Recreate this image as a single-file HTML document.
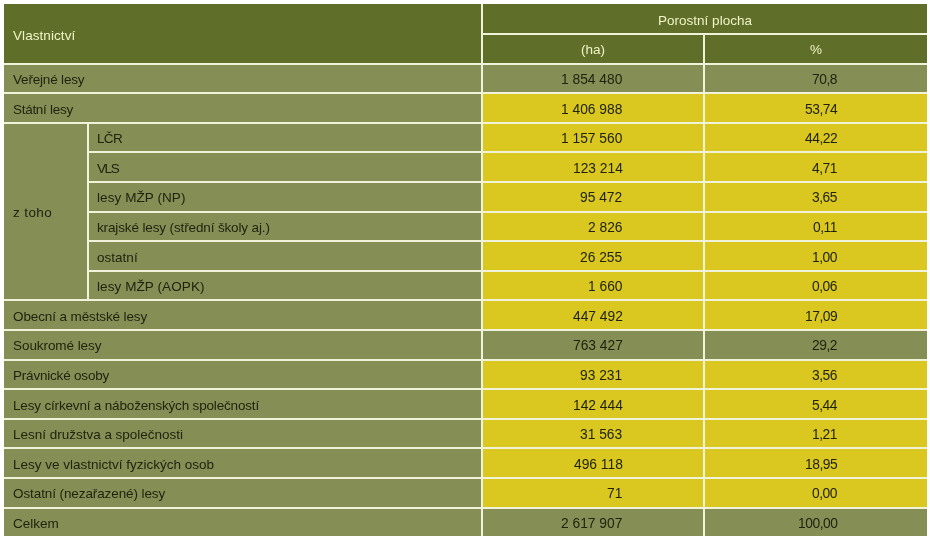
<!DOCTYPE html>
<html><head><meta charset="utf-8"><style>
html,body{margin:0;padding:0;background:#ffffff;width:930px;height:540px;overflow:hidden;}
.wrap{position:relative;width:930px;height:540px;}
.bg{position:absolute;left:4px;top:4px;width:923px;height:532px;background:#f1f2da;}
.r{position:absolute;}
.t{position:absolute;font-family:"Liberation Sans",sans-serif;line-height:20px;white-space:nowrap;will-change:transform;}
</style></head><body><div class="wrap"><div class="bg"></div>
<div class="r" style="left:4px;top:4.00px;width:477px;height:59.00px;background:#5f6f29"></div>
<div class="r" style="left:483px;top:4.00px;width:444px;height:29.00px;background:#5f6f29"></div>
<div class="r" style="left:483px;top:35.00px;width:220px;height:28.00px;background:#5f6f29"></div>
<div class="r" style="left:705px;top:35.00px;width:222px;height:28.00px;background:#5f6f29"></div>
<div class="t" style="top:26.00px;font-size:13.5px;color:#eff3c6;letter-spacing:0.07px;left:12.5px;">Vlastnictví</div>
<div class="t" style="top:11.00px;font-size:13.5px;color:#eff3c6;left:505px;width:400px;text-align:center;">Porostní plocha</div>
<div class="t" style="top:40.00px;font-size:13.5px;color:#eff3c6;left:393px;width:400px;text-align:center;">(ha)</div>
<div class="t" style="top:40.00px;font-size:13.5px;color:#eff3c6;left:615.5px;width:400px;text-align:center;">%</div>
<div class="r" style="left:4px;top:65.00px;width:477px;height:27.00px;background:#858f55"></div>
<div class="t" style="top:70.00px;font-size:13.5px;color:#20240f;letter-spacing:-0.182px;left:12.5px;">Veřejné lesy</div>
<div class="r" style="left:483px;top:65.00px;width:220px;height:27.00px;background:#858f55"></div>
<div class="r" style="left:705px;top:65.00px;width:222px;height:27.00px;background:#858f55"></div>
<div class="t" style="top:70.00px;font-size:13.8px;color:#20240f;right:307.5px;">1 854 480</div>
<div class="t" style="top:70.00px;font-size:13.8px;color:#20240f;letter-spacing:-0.45px;right:92.5px;">70,8</div>
<div class="r" style="left:4px;top:94.00px;width:477px;height:28.00px;background:#858f55"></div>
<div class="t" style="top:100.00px;font-size:13.5px;color:#20240f;letter-spacing:-0.29px;left:12.5px;">Státní lesy</div>
<div class="r" style="left:483px;top:94.00px;width:220px;height:28.00px;background:#dac71f"></div>
<div class="r" style="left:705px;top:94.00px;width:222px;height:28.00px;background:#dac71f"></div>
<div class="t" style="top:100.00px;font-size:13.8px;color:#20240f;right:307.5px;">1 406 988</div>
<div class="t" style="top:100.00px;font-size:13.8px;color:#20240f;letter-spacing:-0.45px;right:92.5px;">53,74</div>
<div class="r" style="left:89px;top:124.00px;width:392px;height:27.00px;background:#858f55"></div>
<div class="t" style="top:129.00px;font-size:13.5px;color:#20240f;letter-spacing:-0.65px;left:96.8px;">LČR</div>
<div class="r" style="left:483px;top:124.00px;width:220px;height:27.00px;background:#dac71f"></div>
<div class="r" style="left:705px;top:124.00px;width:222px;height:27.00px;background:#dac71f"></div>
<div class="t" style="top:129.00px;font-size:13.8px;color:#20240f;right:307.5px;">1 157 560</div>
<div class="t" style="top:129.00px;font-size:13.8px;color:#20240f;letter-spacing:-0.45px;right:92.5px;">44,22</div>
<div class="r" style="left:89px;top:153.00px;width:392px;height:28.00px;background:#858f55"></div>
<div class="t" style="top:159.00px;font-size:13.5px;color:#20240f;letter-spacing:-1.4px;left:96.8px;">VLS</div>
<div class="r" style="left:483px;top:153.00px;width:220px;height:28.00px;background:#dac71f"></div>
<div class="r" style="left:705px;top:153.00px;width:222px;height:28.00px;background:#dac71f"></div>
<div class="t" style="top:159.00px;font-size:13.8px;color:#20240f;right:307.5px;">123 214</div>
<div class="t" style="top:159.00px;font-size:13.8px;color:#20240f;letter-spacing:-0.45px;right:92.5px;">4,71</div>
<div class="r" style="left:89px;top:183.00px;width:392px;height:28.00px;background:#858f55"></div>
<div class="t" style="top:188.00px;font-size:13.5px;color:#20240f;letter-spacing:0.075px;left:96.8px;">lesy MŽP (NP)</div>
<div class="r" style="left:483px;top:183.00px;width:220px;height:28.00px;background:#dac71f"></div>
<div class="r" style="left:705px;top:183.00px;width:222px;height:28.00px;background:#dac71f"></div>
<div class="t" style="top:188.00px;font-size:13.8px;color:#20240f;right:307.5px;">95 472</div>
<div class="t" style="top:188.00px;font-size:13.8px;color:#20240f;letter-spacing:-0.45px;right:92.5px;">3,65</div>
<div class="r" style="left:89px;top:213.00px;width:392px;height:27.00px;background:#858f55"></div>
<div class="t" style="top:218.00px;font-size:13.5px;color:#20240f;letter-spacing:-0.132px;left:96.8px;">krajské lesy (střední školy aj.)</div>
<div class="r" style="left:483px;top:213.00px;width:220px;height:27.00px;background:#dac71f"></div>
<div class="r" style="left:705px;top:213.00px;width:222px;height:27.00px;background:#dac71f"></div>
<div class="t" style="top:218.00px;font-size:13.8px;color:#20240f;right:307.5px;">2 826</div>
<div class="t" style="top:218.00px;font-size:13.8px;color:#20240f;letter-spacing:-0.45px;right:92.5px;">0,11</div>
<div class="r" style="left:89px;top:242.00px;width:392px;height:28.00px;background:#858f55"></div>
<div class="t" style="top:248.00px;font-size:13.5px;color:#20240f;letter-spacing:0.017px;left:96.8px;">ostatní</div>
<div class="r" style="left:483px;top:242.00px;width:220px;height:28.00px;background:#dac71f"></div>
<div class="r" style="left:705px;top:242.00px;width:222px;height:28.00px;background:#dac71f"></div>
<div class="t" style="top:248.00px;font-size:13.8px;color:#20240f;right:307.5px;">26 255</div>
<div class="t" style="top:248.00px;font-size:13.8px;color:#20240f;letter-spacing:-0.45px;right:92.5px;">1,00</div>
<div class="r" style="left:89px;top:272.00px;width:392px;height:27.00px;background:#858f55"></div>
<div class="t" style="top:277.00px;font-size:13.5px;color:#20240f;letter-spacing:0.086px;left:96.8px;">lesy MŽP (AOPK)</div>
<div class="r" style="left:483px;top:272.00px;width:220px;height:27.00px;background:#dac71f"></div>
<div class="r" style="left:705px;top:272.00px;width:222px;height:27.00px;background:#dac71f"></div>
<div class="t" style="top:277.00px;font-size:13.8px;color:#20240f;right:307.5px;">1 660</div>
<div class="t" style="top:277.00px;font-size:13.8px;color:#20240f;letter-spacing:-0.45px;right:92.5px;">0,06</div>
<div class="r" style="left:4px;top:301.00px;width:477px;height:28.00px;background:#858f55"></div>
<div class="t" style="top:307.00px;font-size:13.5px;color:#20240f;letter-spacing:-0.115px;left:12.5px;">Obecní a městské lesy</div>
<div class="r" style="left:483px;top:301.00px;width:220px;height:28.00px;background:#dac71f"></div>
<div class="r" style="left:705px;top:301.00px;width:222px;height:28.00px;background:#dac71f"></div>
<div class="t" style="top:307.00px;font-size:13.8px;color:#20240f;right:307.5px;">447 492</div>
<div class="t" style="top:307.00px;font-size:13.8px;color:#20240f;letter-spacing:-0.45px;right:92.5px;">17,09</div>
<div class="r" style="left:4px;top:331.00px;width:477px;height:28.00px;background:#858f55"></div>
<div class="t" style="top:336.00px;font-size:13.5px;color:#20240f;letter-spacing:-0.067px;left:12.5px;">Soukromé lesy</div>
<div class="r" style="left:483px;top:331.00px;width:220px;height:28.00px;background:#858f55"></div>
<div class="r" style="left:705px;top:331.00px;width:222px;height:28.00px;background:#858f55"></div>
<div class="t" style="top:336.00px;font-size:13.8px;color:#20240f;right:307.5px;">763 427</div>
<div class="t" style="top:336.00px;font-size:13.8px;color:#20240f;letter-spacing:-0.45px;right:92.5px;">29,2</div>
<div class="r" style="left:4px;top:361.00px;width:477px;height:27.00px;background:#858f55"></div>
<div class="t" style="top:366.00px;font-size:13.5px;color:#20240f;letter-spacing:-0.2px;left:12.5px;">Právnické osoby</div>
<div class="r" style="left:483px;top:361.00px;width:220px;height:27.00px;background:#dac71f"></div>
<div class="r" style="left:705px;top:361.00px;width:222px;height:27.00px;background:#dac71f"></div>
<div class="t" style="top:366.00px;font-size:13.8px;color:#20240f;right:307.5px;">93 231</div>
<div class="t" style="top:366.00px;font-size:13.8px;color:#20240f;letter-spacing:-0.45px;right:92.5px;">3,56</div>
<div class="r" style="left:4px;top:390.00px;width:477px;height:28.00px;background:#858f55"></div>
<div class="t" style="top:396.00px;font-size:13.5px;color:#20240f;letter-spacing:-0.172px;left:12.5px;">Lesy církevní a náboženských společností</div>
<div class="r" style="left:483px;top:390.00px;width:220px;height:28.00px;background:#dac71f"></div>
<div class="r" style="left:705px;top:390.00px;width:222px;height:28.00px;background:#dac71f"></div>
<div class="t" style="top:396.00px;font-size:13.8px;color:#20240f;right:307.5px;">142 444</div>
<div class="t" style="top:396.00px;font-size:13.8px;color:#20240f;letter-spacing:-0.45px;right:92.5px;">5,44</div>
<div class="r" style="left:4px;top:420.00px;width:477px;height:27.00px;background:#858f55"></div>
<div class="t" style="top:425.00px;font-size:13.5px;color:#20240f;letter-spacing:-0.011px;left:12.5px;">Lesní družstva a společnosti</div>
<div class="r" style="left:483px;top:420.00px;width:220px;height:27.00px;background:#dac71f"></div>
<div class="r" style="left:705px;top:420.00px;width:222px;height:27.00px;background:#dac71f"></div>
<div class="t" style="top:425.00px;font-size:13.8px;color:#20240f;right:307.5px;">31 563</div>
<div class="t" style="top:425.00px;font-size:13.8px;color:#20240f;letter-spacing:-0.45px;right:92.5px;">1,21</div>
<div class="r" style="left:4px;top:449.00px;width:477px;height:28.00px;background:#858f55"></div>
<div class="t" style="top:455.00px;font-size:13.5px;color:#20240f;letter-spacing:-0.003px;left:12.5px;">Lesy ve vlastnictví fyzických osob</div>
<div class="r" style="left:483px;top:449.00px;width:220px;height:28.00px;background:#dac71f"></div>
<div class="r" style="left:705px;top:449.00px;width:222px;height:28.00px;background:#dac71f"></div>
<div class="t" style="top:455.00px;font-size:13.8px;color:#20240f;right:307.5px;">496 118</div>
<div class="t" style="top:455.00px;font-size:13.8px;color:#20240f;letter-spacing:-0.45px;right:92.5px;">18,95</div>
<div class="r" style="left:4px;top:479.00px;width:477px;height:28.00px;background:#858f55"></div>
<div class="t" style="top:484.00px;font-size:13.5px;color:#20240f;letter-spacing:-0.096px;left:12.5px;">Ostatní (nezařazené) lesy</div>
<div class="r" style="left:483px;top:479.00px;width:220px;height:28.00px;background:#dac71f"></div>
<div class="r" style="left:705px;top:479.00px;width:222px;height:28.00px;background:#dac71f"></div>
<div class="t" style="top:484.00px;font-size:13.8px;color:#20240f;right:307.5px;">71</div>
<div class="t" style="top:484.00px;font-size:13.8px;color:#20240f;letter-spacing:-0.45px;right:92.5px;">0,00</div>
<div class="r" style="left:4px;top:509.00px;width:477px;height:27.00px;background:#858f55"></div>
<div class="t" style="top:514.00px;font-size:13.5px;color:#20240f;letter-spacing:0.02px;left:12.5px;">Celkem</div>
<div class="r" style="left:483px;top:509.00px;width:220px;height:27.00px;background:#858f55"></div>
<div class="r" style="left:705px;top:509.00px;width:222px;height:27.00px;background:#858f55"></div>
<div class="t" style="top:514.00px;font-size:13.8px;color:#20240f;right:307.5px;">2 617 907</div>
<div class="t" style="top:514.00px;font-size:13.8px;color:#20240f;letter-spacing:-0.45px;right:92.5px;">100,00</div>
<div class="r" style="left:4px;top:124.00px;width:83px;height:175.00px;background:#858f55"></div>
<div class="t" style="top:203.00px;font-size:13.5px;color:#20240f;letter-spacing:0.4px;left:12.5px;">z toho</div>
</div></body></html>
